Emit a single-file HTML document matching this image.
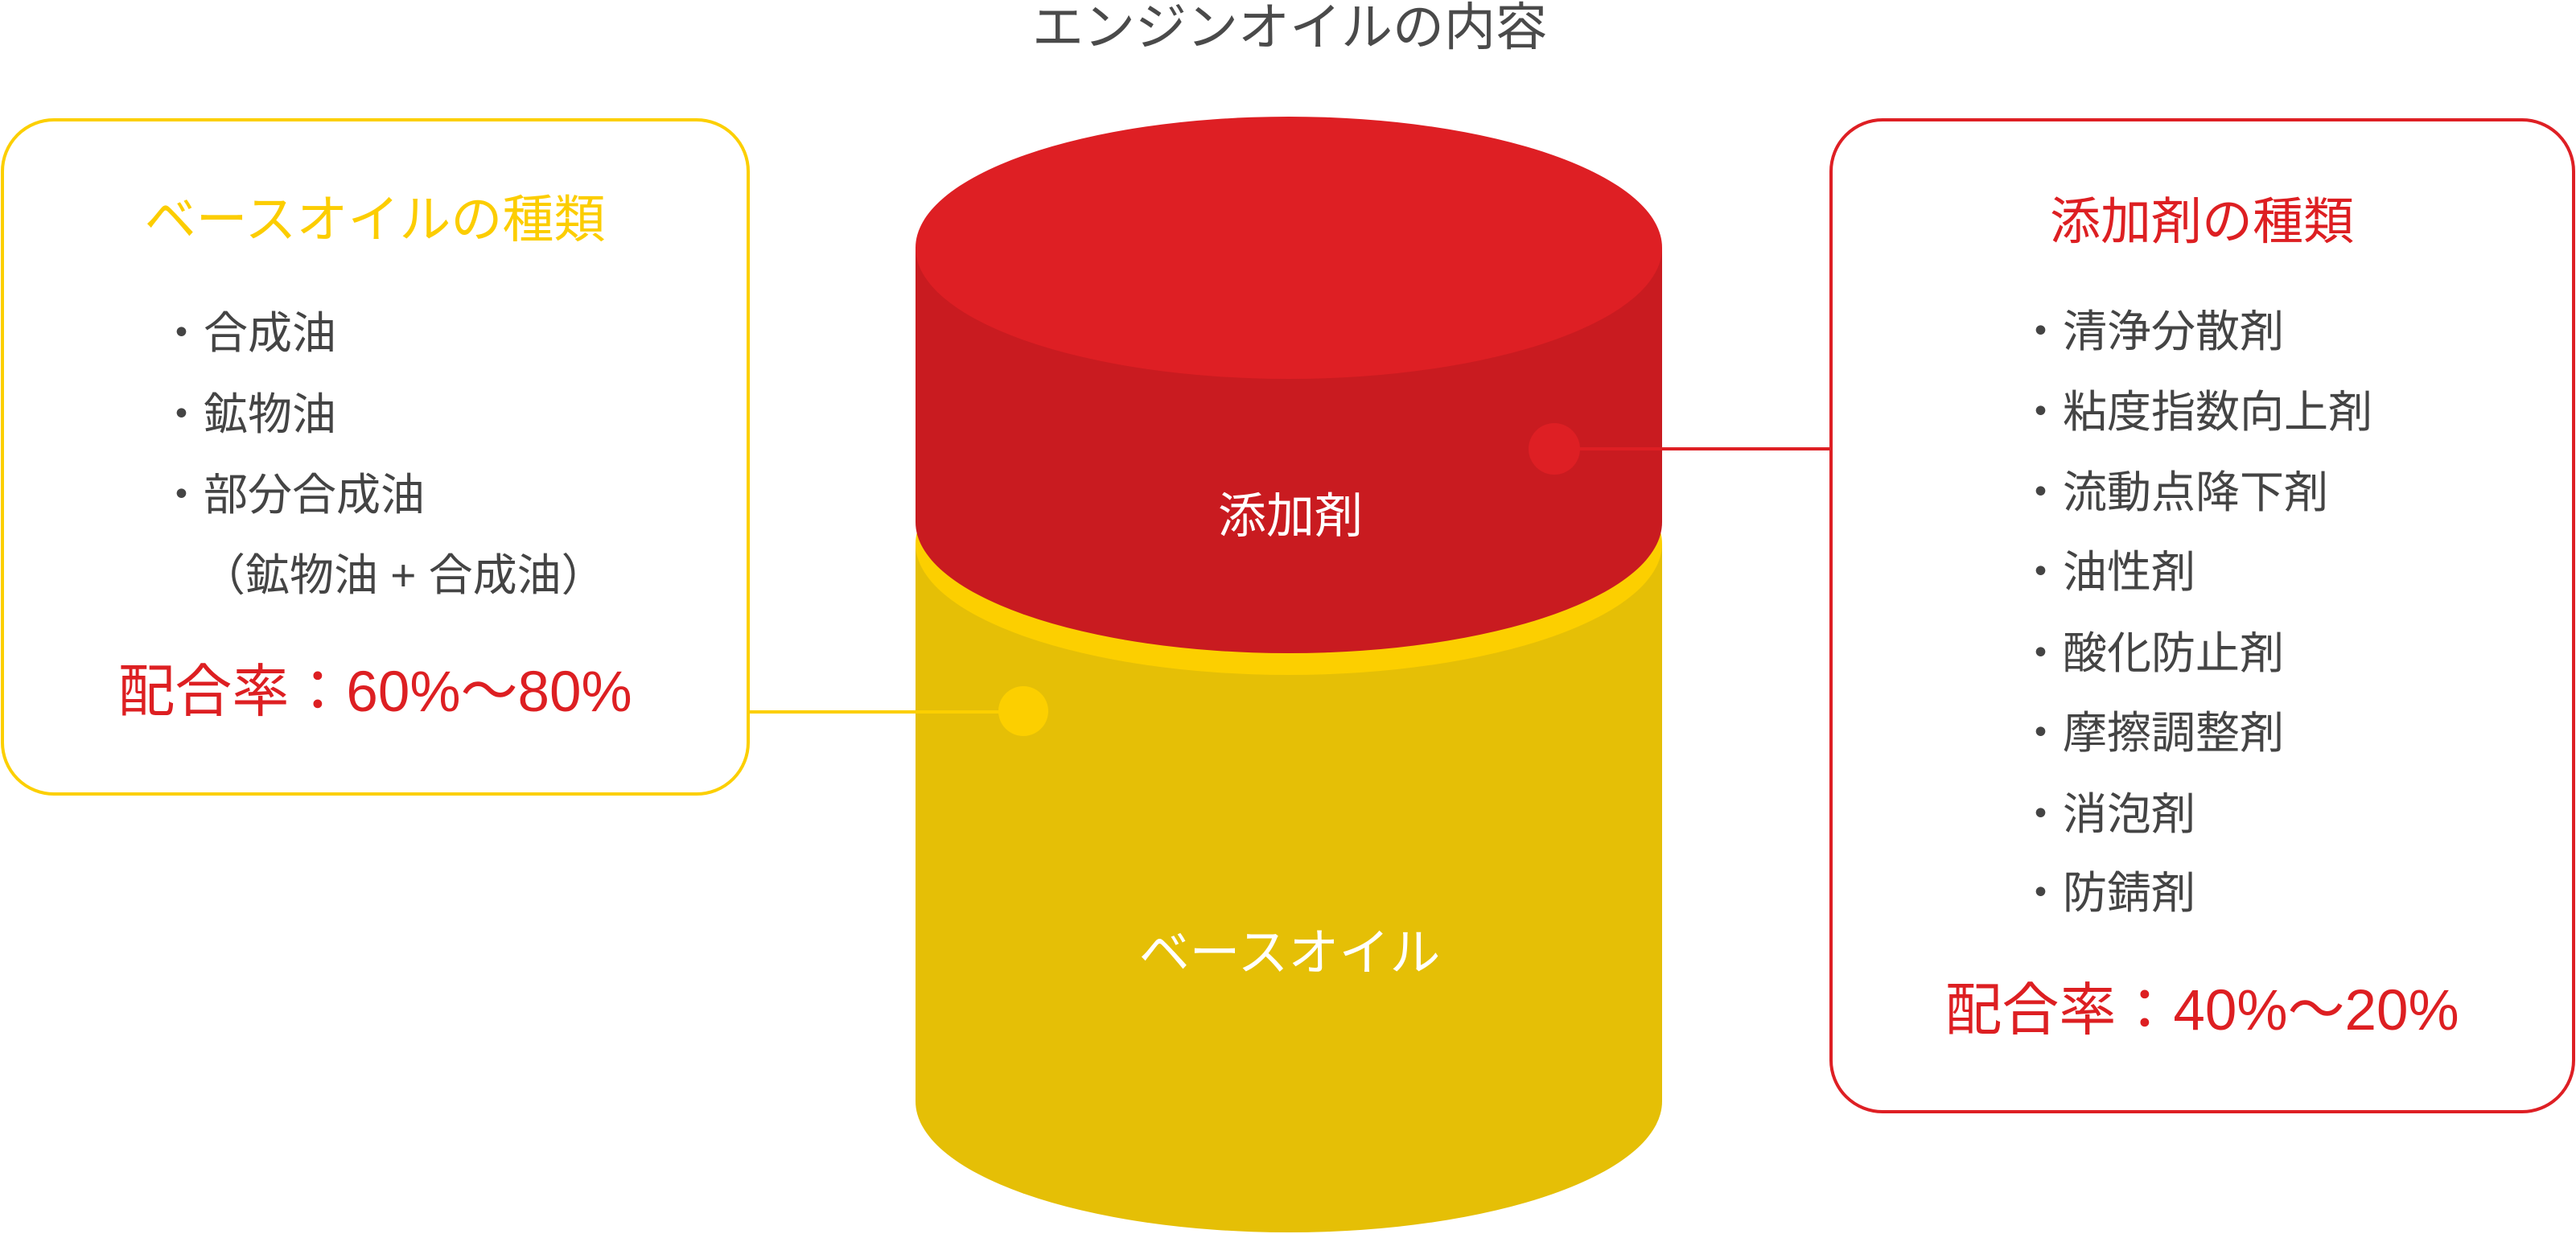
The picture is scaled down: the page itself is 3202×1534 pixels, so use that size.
<!DOCTYPE html>
<html><head><meta charset="utf-8"><style>
html,body{margin:0;padding:0;background:#fff;}
svg{display:block;}
text{font-family:"Liberation Sans","Noto Sans CJK JP",sans-serif;}
</style></head><body>
<svg width="3202" height="1534" viewBox="0 0 3202 1534" xmlns="http://www.w3.org/2000/svg">
<text x="1603" y="56" font-size="64" fill="#4a4a4a" text-anchor="middle">エンジンオイルの内容</text>
<path d="M1138 676 L1138 1369 A464 163 0 0 0 2066 1369 L2066 676 Z" fill="#E5BF06"/>
<ellipse cx="1602" cy="676" rx="464" ry="163" fill="#FCCF00"/>
<path d="M1138 308 L1138 649 A464 163 0 0 0 2066 649 L2066 308 Z" fill="#C91B20"/>
<ellipse cx="1602" cy="308" rx="464" ry="163" fill="#DE1F24"/>
<text x="1604" y="662" font-size="60" fill="#fff" text-anchor="middle">添加剤</text>
<text x="1603" y="1206" font-size="63" fill="#fff" text-anchor="middle">ベースオイル</text>
<line x1="931" y1="885" x2="1272" y2="885" stroke="#FCCF00" stroke-width="4"/>
<circle cx="1272" cy="884" r="31" fill="#FCCF00"/>
<line x1="1932" y1="558" x2="2276" y2="558" stroke="#DE1F24" stroke-width="4"/>
<circle cx="1932" cy="558" r="32" fill="#DE1F24"/>
<rect x="3" y="149" width="927" height="838" rx="64" fill="#fff" stroke="#FCCF00" stroke-width="4"/>
<text x="466" y="295" font-size="64" fill="#FCCD00" text-anchor="middle">ベースオイルの種類</text>
<g font-size="55" fill="#444">
<text x="198" y="433">・合成油</text>
<text x="198" y="534">・鉱物油</text>
<text x="198" y="634">・部分合成油</text>
<text x="250" y="734">（鉱物油 + 合成油）</text>
</g>
<text x="466" y="884" font-size="71" fill="#DD1F22" text-anchor="middle">配合率：60%～80%</text>
<rect x="2276" y="149" width="923" height="1233" rx="64" fill="#fff" stroke="#DE1F24" stroke-width="4"/>
<text x="2737" y="297" font-size="63" fill="#DD1F22" text-anchor="middle">添加剤の種類</text>
<g font-size="55" fill="#444">
<text x="2509" y="431">・清浄分散剤</text>
<text x="2509" y="531">・粘度指数向上剤</text>
<text x="2509" y="631">・流動点降下剤</text>
<text x="2509" y="730">・油性剤</text>
<text x="2509" y="831">・酸化防止剤</text>
<text x="2509" y="930">・摩擦調整剤</text>
<text x="2509" y="1031">・消泡剤</text>
<text x="2509" y="1129">・防錆剤</text>
</g>
<text x="2737" y="1280" font-size="71" fill="#DD1F22" text-anchor="middle">配合率：40%～20%</text>
</svg>
</body></html>
